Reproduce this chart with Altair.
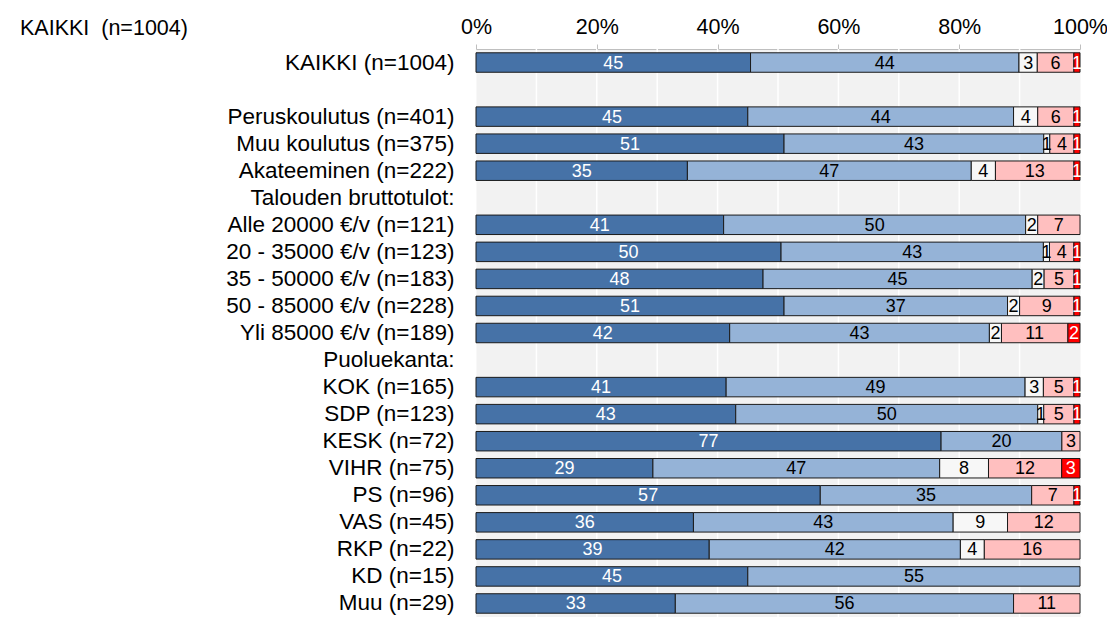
import altair as alt
import pandas as pd

# ---- data ----
all_rows = [
    "KAIKKI (n=1004)", " ",
    "Peruskoulutus (n=401)", "Muu koulutus (n=375)", "Akateeminen (n=222)",
    "Talouden bruttotulot:",
    "Alle 20000 €/v (n=121)", "20 - 35000 €/v (n=123)", "35 - 50000 €/v (n=183)",
    "50 - 85000 €/v (n=228)", "Yli 85000 €/v (n=189)",
    "Puoluekanta:",
    "KOK (n=165)", "SDP (n=123)", "KESK (n=72)", "VIHR (n=75)", "PS (n=96)",
    "VAS (n=45)", "RKP (n=22)", "KD (n=15)", "Muu (n=29)",
]
bar_rows = [
    "KAIKKI (n=1004)",
    "Peruskoulutus (n=401)", "Muu koulutus (n=375)", "Akateeminen (n=222)",
    "Alle 20000 €/v (n=121)", "20 - 35000 €/v (n=123)", "35 - 50000 €/v (n=183)",
    "50 - 85000 €/v (n=228)", "Yli 85000 €/v (n=189)",
    "KOK (n=165)", "SDP (n=123)", "KESK (n=72)", "VIHR (n=75)", "PS (n=96)",
    "VAS (n=45)", "RKP (n=22)", "KD (n=15)", "Muu (n=29)",
]
categories = ["c1", "c2", "c3", "c4", "c5"]
s1 = [45, 45, 51, 35, 41, 50, 48, 51, 42, 41, 43, 77, 29, 57, 36, 39, 45, 33]
s2 = [44, 44, 43, 47, 50, 43, 45, 37, 43, 49, 50, 20, 47, 35, 43, 42, 55, 56]
s3 = [3, 4, 1, 4, 2, 1, 2, 2, 2, 3, 1, 0, 8, 0, 9, 4, 0, 0]
s4 = [6, 6, 4, 13, 7, 4, 5, 9, 11, 5, 5, 3, 12, 7, 12, 16, 0, 11]
s5 = [1, 1, 1, 1, 0, 1, 1, 1, 2, 1, 1, 0, 3, 1, 0, 0, 0, 0]
grid_values = [0.1, 0.2, 0.3, 0.4, 0.5, 0.6, 0.7, 0.8, 0.9]
tick_values = [0, 0.2, 0.4, 0.6, 0.8, 1.0]
title_text = "KAIKKI\u00a0 (n=1004)"

colors = ["#4672a7", "#95b3d7", "#f7f7f7", "#ffbfbf", "#ff0000"]
text_colors = ["white", "black", "black", "black", "white"]

recs = []
for series_idx, series in enumerate([s1, s2, s3, s4, s5]):
    for row, v in zip(bar_rows, series):
        recs.append({"row": row, "cat": categories[series_idx], "order": series_idx,
                     "value": v, "tc": text_colors[series_idx]})
df = pd.DataFrame(recs)
grid_df = pd.DataFrame({"g": grid_values})

FONT = "Liberation Sans"

yscale = alt.Scale(domain=all_rows, paddingInner=0.28, paddingOuter=0.14)
yaxis = alt.Axis(title=None, labelFontSize=22.5, labelFont=FONT, labelColor="black",
                 ticks=False, domain=False, labelPadding=22, labelLimit=400,
                 labelAlign="right", labelBaseline="middle", grid=False)
xscale = alt.Scale(domain=[0, 1], nice=False)
xaxis = alt.Axis(orient="top", values=tick_values, format=".0%", title=None,
                 grid=False, labelFontSize=21.5, labelFont=FONT, labelColor="black",
                 domainColor="#bfbfbf", tickColor="#bfbfbf", tickSize=5,
                 labelPadding=11, labelBaseline="alphabetic", labelFlush=False)

grid = alt.Chart(grid_df).mark_rule(color="white", strokeWidth=1.5).encode(
    x=alt.X("g:Q", scale=xscale, axis=xaxis)
)

base = alt.Chart(df).transform_filter("datum.value > 0").transform_stack(
    stack="value", groupby=["row"], sort=[alt.SortField("order")], as_=["v0", "v1"],
    offset="normalize"
).transform_calculate(mid="(datum.v0 + datum.v1) / 2")

bars = base.mark_bar(stroke="#1a1a1a", strokeWidth=1).encode(
    x=alt.X("v0:Q", scale=xscale, axis=xaxis),
    x2="v1:Q",
    y=alt.Y("row:N", sort=all_rows, scale=yscale, axis=yaxis),
    color=alt.Color("cat:N", scale=alt.Scale(domain=categories, range=colors), legend=None),
)

labels = base.mark_text(font=FONT, fontSize=18, baseline="middle", align="center", dy=1).encode(
    x=alt.X("mid:Q", scale=xscale, axis=xaxis),
    y=alt.Y("row:N", sort=all_rows, scale=yscale, axis=yaxis),
    text=alt.Text("value:Q"),
    color=alt.Color("tc:N", scale=None),
)

chart = alt.layer(grid, bars, labels).properties(
    width=604, height=568,
    title=alt.TitleParams(title_text, anchor="start", frame="group", dx=-456, dy=40,
                          offset=0, fontSize=21.5, fontWeight="normal", font=FONT,
                          color="black", baseline="alphabetic"),
    autosize=alt.AutoSizeParams(type="none"),
    padding={"left": 468, "top": 41, "right": 27, "bottom": 0},
).configure_view(fill="#f2f2f2", stroke="transparent")

chart.save("out.html", embed_options={"renderer": "svg", "actions": False})
